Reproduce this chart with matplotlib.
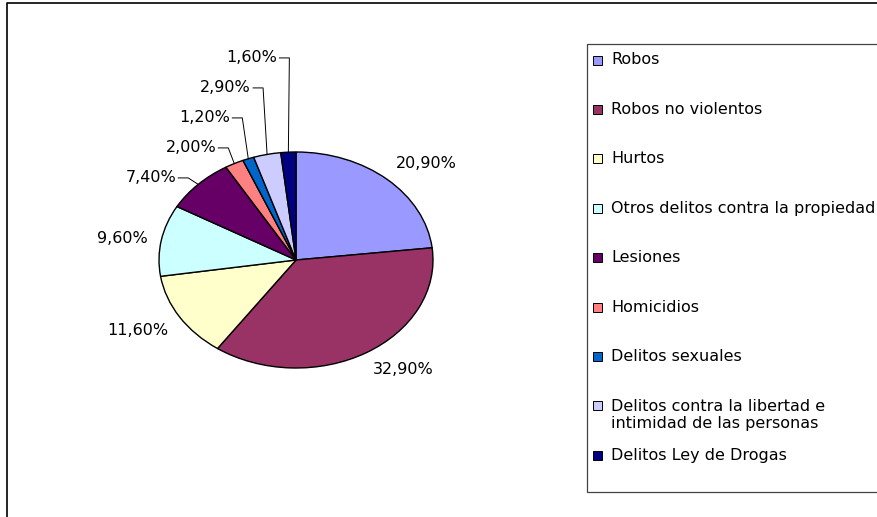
import numpy as np
import matplotlib.pyplot as plt
from matplotlib.patches import Rectangle

plt.rcParams['font.family'] = ['DejaVu Sans']

# datos
categorias = ['Robos', 'Robos no violentos', 'Hurtos', 'Otros delitos contra la propiedad',
              'Lesiones', 'Homicidios', 'Delitos sexuales',
              'Delitos contra la libertad e\nintimidad de las personas', 'Delitos Ley de Drogas']
porcentajes = [20.9, 32.9, 11.6, 9.6, 7.4, 2.0, 1.2, 2.9, 1.6]
colores = ['#9999FF', '#993366', '#FFFFCC', '#CCFFFF', '#660066',
           '#FF8080', '#0066CC', '#CCCCFF', '#000080']
etiquetas = [f'{v:.2f}%'.replace('.', ',') for v in porcentajes]

W, H = 877, 517
FS = 11.5
fig = plt.figure(figsize=(W / 100, H / 100), dpi=100)

# capa de fondo en pixeles (marco y leyenda)
bg = fig.add_axes([0, 0, 1, 1])
bg.set_xlim(0, W)
bg.set_ylim(H, 0)
bg.axis('off')
bg.plot([7, 7, W], [H, 3, 3], color='black', lw=1.2, solid_capstyle='butt')

# tarta eliptica
cx, cy, rx, ry = 296, 260, 137, 108
ax = fig.add_axes([(cx - rx) / W, (H - cy - ry) / H, 2 * rx / W, 2 * ry / H])
wedges, _ = ax.pie(porcentajes, colors=colores, startangle=90, counterclock=False,
                   wedgeprops=dict(edgecolor='black', linewidth=1.0))
ax.set_aspect('auto')
ax.set_xlim(-1, 1)
ax.set_ylim(-1, 1)
ax.axis('off')

px, py = 1 / rx, 1 / ry
desfase = [22, 18, 18, 16, 11]   # separacion texto-cuna de las etiquetas pequenas (px)
n_small = 0
for i, w in enumerate(wedges):
    ang = np.deg2rad((w.theta1 + w.theta2) / 2)
    c, s = np.cos(ang), np.sin(ang)
    if i < 4:
        r = 1.1
        ha = 'left' if c > 0 else 'right'
        va = 'bottom' if s > 0.3 else ('top' if s < -0.3 else 'center')
        ax.text(r * c, r * s, etiquetas[i], ha=ha, va=va, fontsize=FS, clip_on=False)
    else:
        ty = 0.76 + n_small * 30 * py
        tx = c - desfase[n_small] * px
        ax.text(tx, ty, etiquetas[i], ha='right', va='center', fontsize=FS, clip_on=False)
        ax.plot([tx + 2 * px, tx + 12 * px, c], [ty, ty, s], color='black', lw=0.7,
                clip_on=False)
        n_small += 1

# leyenda
bg.add_patch(Rectangle((587, 44), 400, 448, fill=False, edgecolor='#444444', lw=0.9))
y0, paso = 60, 49.4
for i, (nom, col) in enumerate(zip(categorias, colores)):
    y = y0 + i * paso
    bg.add_patch(Rectangle((593, y - 4.5), 9, 9, facecolor=col, edgecolor='black', lw=0.7))
    nl = nom.count('\n')
    bg.text(611, y + nl * 9.2, nom, ha='left', va='center', fontsize=FS, linespacing=1.15)

fig.savefig('out.png', dpi=100, facecolor='white')
